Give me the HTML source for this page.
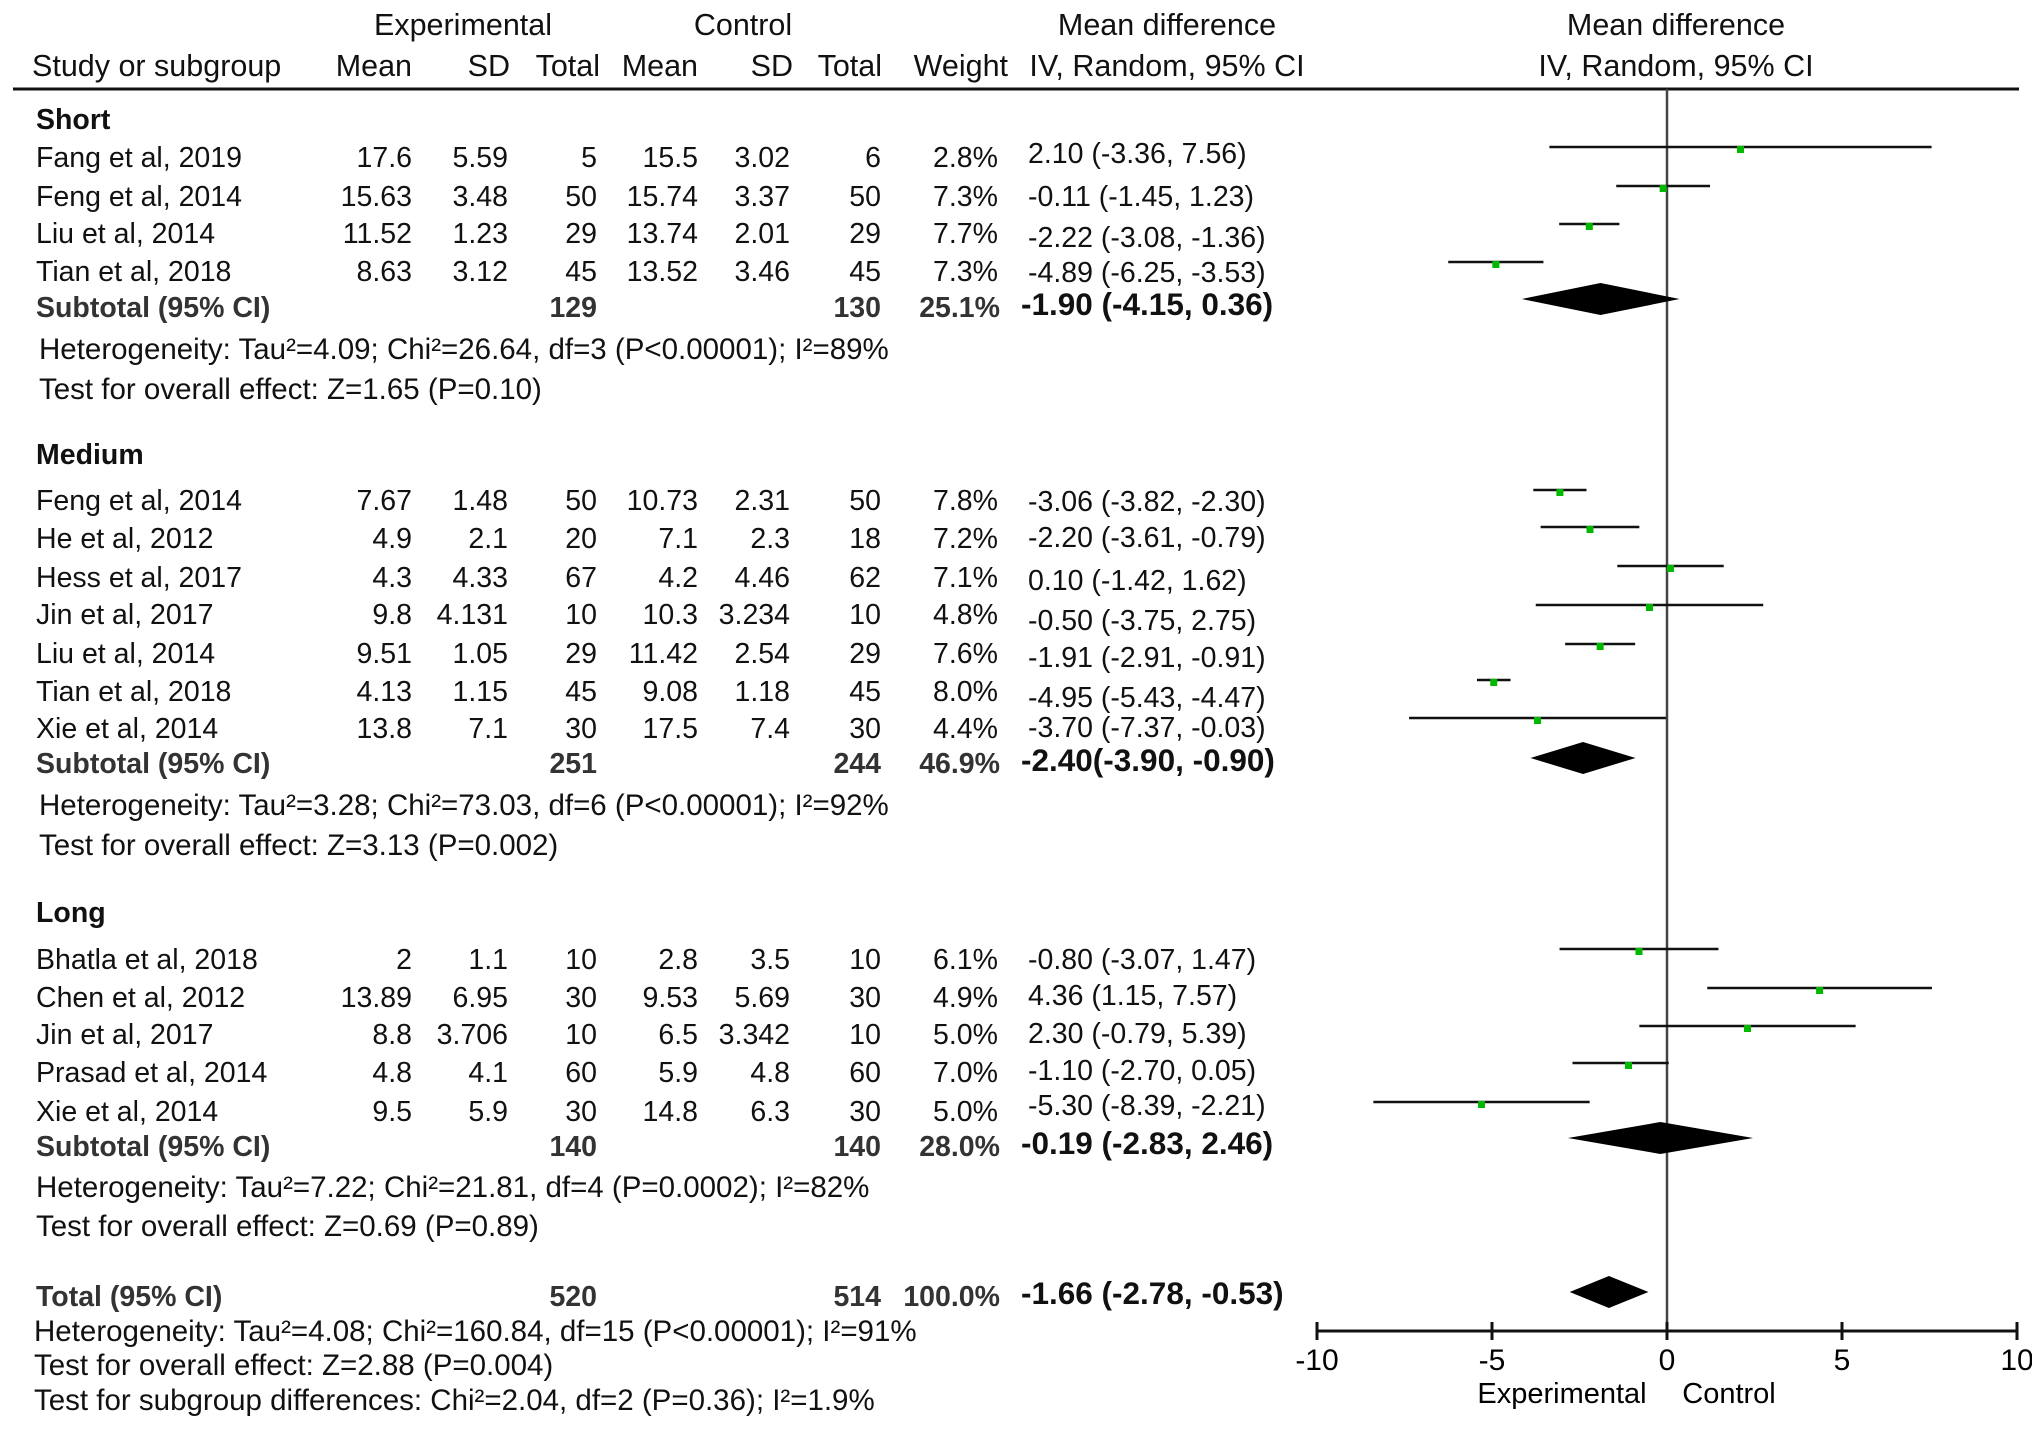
<!DOCTYPE html>
<html><head><meta charset="utf-8"><style>
html,body{margin:0;padding:0;background:#fff;}
svg{display:block;font-family:"Liberation Sans",Arial,sans-serif;}
</style></head><body>
<svg id="c" width="2032" height="1437" viewBox="0 0 2032 1437" xmlns="http://www.w3.org/2000/svg">
<g font-size="30.5" fill="#111">
<text x="463" y="35" text-anchor="middle">Experimental</text>
<text x="743" y="35" text-anchor="middle">Control</text>
<text x="1167" y="35" text-anchor="middle">Mean difference</text>
<text x="1676" y="35" text-anchor="middle">Mean difference</text>
<text x="32" y="76">Study or subgroup</text>
<text x="412" y="76" text-anchor="end">Mean</text>
<text x="510" y="76" text-anchor="end">SD</text>
<text x="600" y="76" text-anchor="end">Total</text>
<text x="698" y="76" text-anchor="end">Mean</text>
<text x="793" y="76" text-anchor="end">SD</text>
<text x="882" y="76" text-anchor="end">Total</text>
<text x="1008" y="76" text-anchor="end">Weight</text>
<text x="1167" y="76" text-anchor="middle">IV, Random, 95% CI</text>
<text x="1676" y="76" text-anchor="middle">IV, Random, 95% CI</text>
</g>
<line x1="13" y1="89" x2="2019" y2="89" stroke="#111" stroke-width="3"/>
<g id="tbl" font-size="28.5" fill="#111"></g>
<g id="plot"></g>
</svg>
<script>
const groupNames = ["Short","Medium","Long"];
const groupLabelY = [119,454,912];
const studies = [
 ["Fang et al, 2019","17.6","5.59","5","15.5","3.02","6","2.8%",2.10,-3.36,7.56,0],
 ["Feng et al, 2014","15.63","3.48","50","15.74","3.37","50","7.3%",-0.11,-1.45,1.23,0],
 ["Liu et al, 2014","11.52","1.23","29","13.74","2.01","29","7.7%",-2.22,-3.08,-1.36,0],
 ["Tian et al, 2018","8.63","3.12","45","13.52","3.46","45","7.3%",-4.89,-6.25,-3.53,0],
 ["Feng et al, 2014","7.67","1.48","50","10.73","2.31","50","7.8%",-3.06,-3.82,-2.30,1],
 ["He et al, 2012","4.9","2.1","20","7.1","2.3","18","7.2%",-2.20,-3.61,-0.79,1],
 ["Hess et al, 2017","4.3","4.33","67","4.2","4.46","62","7.1%",0.10,-1.42,1.62,1],
 ["Jin et al, 2017","9.8","4.131","10","10.3","3.234","10","4.8%",-0.50,-3.75,2.75,1],
 ["Liu et al, 2014","9.51","1.05","29","11.42","2.54","29","7.6%",-1.91,-2.91,-0.91,1],
 ["Tian et al, 2018","4.13","1.15","45","9.08","1.18","45","8.0%",-4.95,-5.43,-4.47,1],
 ["Xie et al, 2014","13.8","7.1","30","17.5","7.4","30","4.4%",-3.70,-7.37,-0.03,1],
 ["Bhatla et al, 2018","2","1.1","10","2.8","3.5","10","6.1%",-0.80,-3.07,1.47,2],
 ["Chen et al, 2012","13.89","6.95","30","9.53","5.69","30","4.9%",4.36,1.15,7.57,2],
 ["Jin et al, 2017","8.8","3.706","10","6.5","3.342","10","5.0%",2.30,-0.79,5.39,2],
 ["Prasad et al, 2014","4.8","4.1","60","5.9","4.8","60","7.0%",-1.10,-2.70,0.05,2],
 ["Xie et al, 2014","9.5","5.9","30","14.8","6.3","30","5.0%",-5.30,-8.39,-2.21,2]
];
const studyTextY = [157,196,233,271,500,538,577,614,653,691,728,959,997,1034,1072,1111];
const studyLineY = [147,186,224,262,490,527,566,605,644,680,718,949,988,1026,1063,1102];
const ciLabels = ["2.10 (-3.36, 7.56)","-0.11 (-1.45, 1.23)","-2.22 (-3.08, -1.36)","-4.89 (-6.25, -3.53)",
 "-3.06 (-3.82, -2.30)","-2.20 (-3.61, -0.79)","0.10 (-1.42, 1.62)","-0.50 (-3.75, 2.75)","-1.91 (-2.91, -0.91)","-4.95 (-5.43, -4.47)","-3.70 (-7.37, -0.03)",
 "-0.80 (-3.07, 1.47)","4.36 (1.15, 7.57)","2.30 (-0.79, 5.39)","-1.10 (-2.70, 0.05)","-5.30 (-8.39, -2.21)"];
const ciTextY = [153,196,237,272,501,537,580,620,657,697,727,959,995,1033,1070,1105];
const subtotals = [
 ["Subtotal (95% CI)","129","130","25.1%","-1.90 (-4.15, 0.36)",-1.90,-4.15,0.36],
 ["Subtotal (95% CI)","251","244","46.9%","-2.40(-3.90, -0.90)",-2.40,-3.90,-0.90],
 ["Subtotal (95% CI)","140","140","28.0%","-0.19 (-2.83, 2.46)",-0.19,-2.83,2.46],
 ["Total (95% CI)","520","514","100.0%","-1.66 (-2.78, -0.53)",-1.66,-2.78,-0.53]
];
const subTextY = [307,763,1146,1296];
const diamondY = [299,758,1138,1292];
const hetLines = [
 ["Heterogeneity: Tau²=4.09; Chi²=26.64, df=3 (P<0.00001); I²=89%",39,349],
 ["Test for overall effect: Z=1.65 (P=0.10)",39,389],
 ["Heterogeneity: Tau²=3.28; Chi²=73.03, df=6 (P<0.00001); I²=92%",39,805],
 ["Test for overall effect: Z=3.13 (P=0.002)",39,845],
 ["Heterogeneity: Tau²=7.22; Chi²=21.81, df=4 (P=0.0002); I²=82%",36,1187],
 ["Test for overall effect: Z=0.69 (P=0.89)",36,1226],
 ["Heterogeneity: Tau²=4.08; Chi²=160.84, df=15 (P<0.00001); I²=91%",34,1331],
 ["Test for overall effect: Z=2.88 (P=0.004)",34,1365],
 ["Test for subgroup differences:  Chi²=2.04, df=2 (P=0.36); I²=1.9%",34,1400]
];
const ticks = [-10,-5,0,5,10];
const tickLabels = ["-10","-5","0","5","10"];

const NS="http://www.w3.org/2000/svg";
const X0=1317, X1=2017, DMIN=-10, DMAX=10;
function xs(v){return X0+(v-DMIN)/(DMAX-DMIN)*(X1-X0);}
const tbl=document.getElementById('tbl'), plot=document.getElementById('plot');
function txt(parent,s,x,y,anchor,bold){
 const t=document.createElementNS(NS,'text');
 t.setAttribute('x',x);t.setAttribute('y',y+10);
 if(anchor)t.setAttribute('text-anchor',anchor);
 if(bold){t.setAttribute('font-weight','bold');t.setAttribute('fill','#333');}
 t.textContent=s;parent.appendChild(t);return t;
}
function el(parent,tag,attrs){const e=document.createElementNS(NS,tag);for(const k in attrs)e.setAttribute(k,attrs[k]);parent.appendChild(e);return e;}

groupNames.forEach((g,i)=>{
 const t=txt(tbl,g,36,groupLabelY[i],null,false);
 t.setAttribute('font-weight','bold');
 
 
});
const colX=[412,508,597,698,790,881,998];
studies.forEach((s,i)=>{
 const y=studyTextY[i];
 let t=txt(tbl,s[0],36,y);
 
 
 for(let c=1;c<=7;c++){
  t=txt(tbl,s[c],colX[c-1],y,'end');
  
  
 }
 t=txt(tbl,ciLabels[i],1028,ciTextY[i]);
 
 
});
subtotals.forEach((s,i)=>{
 const y=subTextY[i];
 let t=txt(tbl,s[0],36,y,null,true);
 
 
 t=txt(tbl,s[1],597,y,'end',true);
 
 
 t=txt(tbl,s[2],881,y,'end',true);
 
 
 t=txt(tbl,s[3],1000,y,'end',true);
 
 
 t=txt(tbl,s[4],1021,y-2,null,true);
 t.setAttribute('fill','#111');
 t.setAttribute('font-size','31.5');
 
 
});
hetLines.forEach(h=>{
 const t=txt(tbl,h[0],h[1],h[2]);
 t.setAttribute('font-size','29.5');
 
 
});

let z=el(plot,'line',{x1:xs(0),y1:89,x2:xs(0),y2:1331,stroke:'#444','stroke-width':2.5});


studies.forEach((s,i)=>{
 const y=studyLineY[i];
 const l=el(plot,'line',{x1:xs(s[9]),y1:y,x2:xs(s[10]),y2:y,stroke:'#111','stroke-width':2.5});
 
 
 const r=el(plot,'rect',{x:xs(s[8])-3.5,y:y-1,width:7,height:7,fill:'#00b800'});
 
 
});
subtotals.forEach((s,i)=>{
 const y=diamondY[i],h=16;
 const p=el(plot,'polygon',{points:`${xs(s[6])},${y} ${xs(s[5])},${y-h} ${xs(s[7])},${y} ${xs(s[5])},${y+h}`,fill:'#000'});
 
 
});
const ax=el(plot,'line',{x1:xs(DMIN),y1:1331,x2:xs(DMAX),y2:1331,stroke:'#111','stroke-width':3});


ticks.forEach((v,i)=>{
 const tk=el(plot,'line',{x1:xs(v),y1:1322,x2:xs(v),y2:1340,stroke:'#111','stroke-width':3});
 
 
 const t=txt(plot,tickLabels[i],xs(v),1360,'middle');
 t.setAttribute('font-size','30');
 
 
});
let t=txt(plot,'Experimental',1562,1393,'middle');
t.setAttribute('font-size','29');


t=txt(plot,'Control',1729,1393,'middle');
t.setAttribute('font-size','29');


</script>
</body></html>
